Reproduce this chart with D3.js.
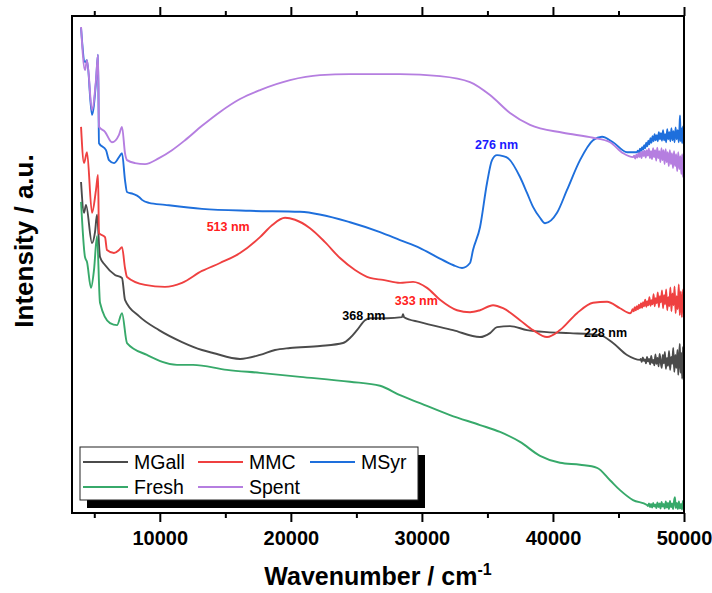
<!DOCTYPE html>
<html>
<head>
<meta charset="utf-8">
<script src="https://cdn.jsdelivr.net/npm/d3@7"></script>
<style>
  body { margin: 0; background: #ffffff; }
  svg { display: block; }
</style>
</head>
<body>
<svg id="chart" width="712" height="593"></svg>
<script>
// ---- Spectra: [wavenumber (cm-1), intensity (a.u., offset-stacked)] ----
const mgall = [
  [3990,66.6],[4216,60.4],[4368,62.0],[4826,54.3],[5055,56.5],[5208,60.0],[5437,51.5],[5818,49.9],
  [6581,47.9],[7116,47.3],[7344,42.9],[8413,39.6],[9939,36.8],[11694,34.4],[13220,32.8],[14060,32.2],
  [16120,31.0],[17646,31.8],[18791,32.8],[19936,33.2],[22225,33.6],[23980,34.2],[24514,35.2],[25048,36.8],
  [25659,38.8],[26040,39.2],[27338,39.2],[28480,39.4],[28559,40.0],[28640,39.4],[29856,38.4],[32374,36.8],
  [34434,35.4],[35198,36.2],[35732,37.4],[36724,37.6],[38021,36.8],[39547,36.4],[41302,36.2],[43592,35.8],
  [44584,34.2],[45652,31.8],[46644,30.8],
  [46700,31.0],[46780,30.4],[46860,31.3],[46940,30.6],[47020,30.9],[47100,30.1],[47180,31.4],[47260,30.5],
  [47340,31.0],[47420,29.9],[47500,31.6],[47580,30.2],[47660,30.8],[47740,29.7],[47820,31.9],[47900,30.0],
  [47980,31.2],[48060,29.5],[48140,32.0],[48220,30.4],[48300,29.2],[48380,31.8],[48460,30.1],[48540,32.4],
  [48620,29.0],[48700,31.2],[48780,29.6],[48860,32.6],[48940,28.8],[49020,31.4],[49100,30.0],[49180,33.2],
  [49260,28.4],[49340,31.8],[49420,29.2],[49500,32.8],[49560,27.8],[49620,31.0],[49680,34.0],[49740,28.2],
  [49800,32.2],[49860,27.0],[49920,33.4],[49960,28.6],[50000,30.8]
];
const mmc = [
  [3990,77.7],[4216,70.4],[4445,72.6],[4826,60.4],[5131,65.0],[5284,68.0],[5360,56.3],[5818,55.5],
  [5971,52.9],[6505,52.3],[6887,52.9],[7116,53.5],[7344,49.3],[7497,47.5],[8871,45.9],[10397,45.5],
  [11694,46.3],[13220,48.7],[14594,50.3],[16120,52.3],[17646,55.5],[18562,57.9],[19554,59.4],[20317,59.0],
  [21462,57.3],[22607,54.5],[23751,51.3],[24896,48.9],[26040,47.3],[27032,46.9],[28330,46.3],[29322,46.5],
  [30390,45.3],[31382,42.9],[32679,40.8],[33671,40.4],[34434,40.8],[35427,41.8],[36190,41.2],[37487,38.8],
  [38479,36.8],[39547,35.4],[40539,36.8],[41837,40.2],[43058,42.3],[44126,42.5],[45118,41.2],[45881,40.2],
  [46000,40.5],[46080,41.0],[46160,40.6],[46240,41.4],[46320,40.8],[46400,41.6],[46480,41.0],[46560,41.9],
  [46640,41.2],[46720,42.2],[46800,41.3],[46880,42.4],[46960,41.6],[47040,42.9],[47120,41.5],[47200,42.6],
  [47280,41.8],[47360,43.4],[47440,41.7],[47520,42.8],[47600,42.0],[47680,44.0],[47760,41.6],[47840,43.2],
  [47920,42.2],[48000,44.4],[48080,41.4],[48160,43.6],[48240,42.4],[48320,44.8],[48400,41.2],[48480,43.8],
  [48560,42.0],[48640,45.0],[48720,40.8],[48800,43.4],[48880,41.6],[48960,45.4],[49040,40.6],[49120,44.2],
  [49200,41.8],[49280,45.6],[49360,40.2],[49440,43.6],[49520,41.0],[49600,46.0],[49680,39.8],[49760,44.6],
  [49840,39.4],[49920,45.0],[50000,40.6]
];
const msyr = [
  [3990,97.6],[4292,90.7],[4445,91.1],[4826,80.1],[5131,86.7],[5284,92.2],[5360,74.4],[5895,73.0],
  [6123,71.0],[6505,70.4],[6887,71.6],[7116,72.4],[7344,67.0],[7497,64.6],[7955,64.2],[8413,63.6],
  [8642,63.0],[9176,62.4],[10397,62.0],[13220,61.2],[16883,60.8],[20699,60.6],[24514,58.5],[26804,56.5],
  [28330,54.9],[29856,53.3],[31153,51.5],[32374,49.9],[33061,49.3],[33671,50.3],[33900,52.9],[34434,57.5],
  [34969,66.4],[35350,71.0],[35732,72.0],[36190,71.8],[36571,71.4],[37487,67.6],[38021,64.4],[38479,61.6],
  [39013,59.4],[39395,58.3],[40310,60.4],[41073,65.0],[42065,71.0],[43058,75.0],[43744,75.7],[44584,74.6],
  [45652,72.6],[46415,72.6],
  [46480,72.9],[46560,72.5],[46640,73.3],[46720,72.8],[46800,73.6],[46880,73.1],[46960,74.0],[47040,73.4],
  [47120,74.5],[47200,73.8],[47280,74.9],[47360,74.2],[47440,75.4],[47520,74.5],[47600,75.8],[47680,74.8],
  [47760,76.2],[47840,75.0],[47920,76.0],[48000,74.8],[48080,76.6],[48160,75.2],[48240,76.4],[48320,74.9],
  [48400,77.0],[48480,75.0],[48560,76.2],[48640,74.6],[48720,77.2],[48800,75.2],[48880,76.6],[48960,74.8],
  [49040,77.4],[49120,75.0],[49200,76.8],[49280,74.6],[49360,77.6],[49440,75.2],[49520,77.0],[49600,74.6],
  [49660,77.8],[49700,80.0],[49740,74.8],[49800,77.4],[49860,74.4],[49920,77.8],[49960,75.0],[50000,76.4]
];
const fresh = [
  [3990,62.6],[4292,51.5],[4445,50.5],[4750,45.3],[4979,48.9],[5208,55.7],[5437,42.3],[6200,38.2],
  [6734,37.8],[7116,40.2],[7497,34.2],[9023,31.8],[11313,29.8],[12534,29.8],[15128,28.8],[17646,28.2],
  [20699,27.4],[24514,26.4],[26804,25.6],[28330,23.7],[29856,22.1],[32145,19.7],[34434,17.7],[35961,16.3],
  [37487,14.3],[39013,11.5],[40539,10.1],[42065,9.7],[43363,9.1],[44355,6.6],[45118,4.6],[46110,2.6],
  [47178,1.6],
  [47250,1.4],[47330,1.9],[47410,1.2],[47490,1.8],[47570,1.1],[47650,2.0],[47730,1.3],[47810,1.7],
  [47890,1.0],[47970,2.1],[48050,1.2],[48130,1.9],[48210,0.9],[48290,2.2],[48370,1.3],[48450,1.8],
  [48530,0.9],[48610,2.3],[48690,1.1],[48770,2.0],[48850,0.8],[48930,2.4],[49010,1.2],[49090,1.9],
  [49170,0.8],[49250,2.6],[49310,3.2],[49370,1.0],[49450,2.0],[49530,0.8],[49610,2.3],[49690,0.9],
  [49770,1.8],[49850,0.7],[49920,2.4],[50000,0.9]
];
const spent = [
  [3990,97.8],[4292,89.1],[4445,91.1],[4826,81.1],[5131,87.1],[5284,92.2],[5360,77.7],[5818,76.7],
  [6352,74.6],[6887,76.1],[7116,77.7],[7344,72.4],[7497,71.0],[8108,70.4],[8871,70.2],[9939,71.4],
  [10931,73.0],[11923,75.0],[13220,77.9],[14594,80.7],[16120,83.3],[17646,85.1],[19936,87.1],[22225,88.1],
  [24514,88.3],[28330,88.3],[31382,87.9],[33671,86.7],[35198,84.1],[36724,80.5],[38250,78.1],[40768,76.5],
  [43058,75.5],[44355,74.6],[45347,72.4],[46110,71.6],
  [46200,71.9],[46280,71.3],[46360,72.1],[46440,71.5],[46520,72.4],[46600,71.6],[46680,72.6],[46760,71.4],
  [46840,72.8],[46920,71.8],[47000,72.9],[47080,71.5],[47160,73.0],[47240,71.9],[47320,73.3],[47400,71.4],
  [47480,72.8],[47560,71.2],[47640,73.4],[47720,71.6],[47800,73.0],[47880,70.9],[47960,73.5],[48040,71.4],
  [48120,72.8],[48200,70.6],[48280,73.4],[48360,71.0],[48440,73.0],[48520,70.2],[48600,73.2],[48680,70.6],
  [48760,72.6],[48840,69.8],[48920,73.0],[49000,70.2],[49080,72.4],[49160,69.4],[49240,72.8],[49320,69.8],
  [49400,72.2],[49480,68.8],[49560,72.6],[49640,69.2],[49720,71.8],[49800,68.2],[49860,72.2],[49920,67.6],
  [49960,71.0],[50000,68.4]
];

const seriesNames = ["MGall", "MMC", "MSyr", "Fresh", "Spent"];
const seriesData = [mgall, mmc, msyr, fresh, spent];

// Band maxima marked on the spectra (wavelength in nm)
const peakNm = [513, 276, 333, 368, 228];
const peakSeries = ["MMC", "MSyr", "MMC", "MGall", "MGall"];

// Axis ticks
const majorTicks = [10000, 20000, 30000, 40000, 50000];
const minorTicks = [5000, 15000, 25000, 35000, 45000];

// ---- Styles and layout ----
const colors = {
  MGall: "#4b4b4b",
  MMC: "#ef4040",
  MSyr: "#1e6fdc",
  Fresh: "#37a96a",
  Spent: "#b57ee0"
};
const labelColors = { MGall: "#000000", MMC: "#ff2020", MSyr: "#1a1aff" };
// label offset from the band position (px), and baseline y (px)
const peakLabelLayout = [
  { dx: -56, y: 231 },
  { dx: -7, y: 149 },
  { dx: -6, y: 305 },
  { dx: -21, y: 320 },
  { dx: 2, y: 337 }
];

const plot = { left: 72, right: 684, top: 16, bottom: 513 };
const FONT = "Arial, 'Liberation Sans', Helvetica, sans-serif";

const svg = d3.select("#chart");

const x = d3.scaleLinear().domain([3300, 50000]).range([plot.left, plot.right]);
const y = d3.scaleLinear().domain([0, 100]).range([plot.bottom, plot.top]);

svg.append("defs").append("clipPath").attr("id", "plot-clip")
  .append("rect")
  .attr("x", plot.left).attr("y", plot.top)
  .attr("width", plot.right - plot.left).attr("height", plot.bottom - plot.top);

// Spectra
const line = d3.line()
  .x(d => x(d[0]))
  .y(d => y(d[1]))
  .curve(d3.curveMonotoneX);

const lines = svg.append("g").attr("clip-path", "url(#plot-clip)");
seriesNames.forEach((name, i) => {
  lines.append("path")
    .datum(seriesData[i])
    .attr("fill", "none")
    .attr("stroke", colors[name])
    .attr("stroke-width", 1.9)
    .attr("stroke-linejoin", "round")
    .attr("d", line);
});

// Peak annotations
const peaks = svg.append("g")
  .attr("font-family", FONT)
  .attr("font-weight", "bold")
  .attr("font-size", 12.5);
peakNm.forEach((nm, i) => {
  const pos = peakLabelLayout[i];
  peaks.append("text")
    .attr("x", x(1e7 / nm) + pos.dx)
    .attr("y", pos.y)
    .attr("text-anchor", "middle")
    .attr("fill", labelColors[peakSeries[i]])
    .text(nm + " nm");
});

// Frame
svg.append("rect")
  .attr("x", plot.left).attr("y", plot.top)
  .attr("width", plot.right - plot.left).attr("height", plot.bottom - plot.top)
  .attr("fill", "none").attr("stroke", "#000").attr("stroke-width", 2);

// Bottom axis: major ticks with labels, minor ticks without; mirrored ticks on top
const bottomMajor = svg.append("g")
  .attr("transform", `translate(0,${plot.bottom})`)
  .call(d3.axisBottom(x).tickValues(majorTicks).tickSize(9).tickPadding(9).tickFormat(d3.format("d")));
const bottomMinor = svg.append("g")
  .attr("transform", `translate(0,${plot.bottom})`)
  .call(d3.axisBottom(x).tickValues(minorTicks).tickSize(5).tickFormat(""));
const topMajor = svg.append("g")
  .attr("transform", `translate(0,${plot.top})`)
  .call(d3.axisTop(x).tickValues(majorTicks).tickSize(9).tickFormat(""));
const topMinor = svg.append("g")
  .attr("transform", `translate(0,${plot.top})`)
  .call(d3.axisTop(x).tickValues(minorTicks).tickSize(5).tickFormat(""));

[bottomMajor, bottomMinor, topMajor, topMinor].forEach(g => {
  g.select(".domain").remove();
  g.selectAll(".tick line").attr("stroke", "#000").attr("stroke-width", 2);
});
bottomMajor.selectAll(".tick text")
  .attr("font-family", FONT)
  .attr("font-weight", "bold")
  .attr("font-size", 20)
  .attr("fill", "#000");

// Axis titles
const xTitle = svg.append("text")
  .attr("x", (plot.left + plot.right) / 2)
  .attr("y", 585)
  .attr("text-anchor", "middle")
  .attr("font-family", FONT)
  .attr("font-weight", "bold")
  .attr("font-size", 25)
  .attr("fill", "#000");
xTitle.append("tspan").text("Wavenumber / cm");
xTitle.append("tspan").attr("dy", -10).attr("font-size", 16).text("-1");

svg.append("text")
  .attr("transform", "translate(33,241) rotate(-90)")
  .attr("text-anchor", "middle")
  .attr("font-family", FONT)
  .attr("font-weight", "bold")
  .attr("font-size", 26)
  .attr("fill", "#000")
  .text("Intensity / a.u.");

// Legend with drop shadow
const legend = { x: 80, y: 447, w: 338, h: 53, shadow: 7 };
svg.append("rect")
  .attr("x", legend.x + legend.shadow).attr("y", legend.y + legend.shadow + 1)
  .attr("width", legend.w).attr("height", legend.h)
  .attr("fill", "#000");
svg.append("rect")
  .attr("x", legend.x).attr("y", legend.y)
  .attr("width", legend.w).attr("height", legend.h)
  .attr("fill", "#fff").attr("stroke", "#222").attr("stroke-width", 1);

const legendCols = [83, 198, 310];
const legendRows = [462, 487];
seriesNames.forEach((name, i) => {
  const cx = legendCols[i % 3], cy = legendRows[Math.floor(i / 3)];
  svg.append("line")
    .attr("x1", cx).attr("x2", cx + 45)
    .attr("y1", cy).attr("y2", cy)
    .attr("stroke", colors[name]).attr("stroke-width", 2);
  svg.append("text")
    .attr("x", cx + 51).attr("y", cy + 7)
    .attr("font-family", FONT)
    .attr("font-size", 19.5)
    .attr("fill", "#000")
    .text(name);
});
</script>
</body>
</html>
